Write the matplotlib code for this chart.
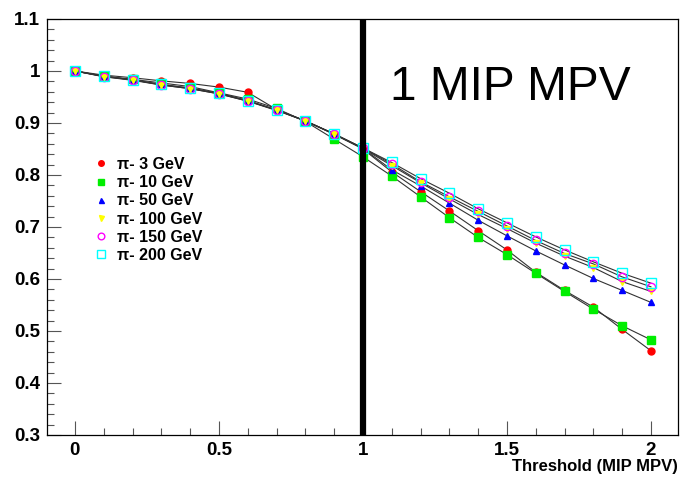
import numpy as np
import matplotlib
matplotlib.use("Agg")
from matplotlib import pyplot as plt
from matplotlib.ticker import MultipleLocator

plt.rcParams['font.family'] = ['Liberation Sans', 'DejaVu Sans']

# threshold values (MIP MPV)
threshold = [0.0, 0.1, 0.2, 0.3, 0.4, 0.5, 0.6, 0.7, 0.8, 0.9, 1.0,
             1.1, 1.2, 1.3, 1.4, 1.5, 1.6, 1.7, 1.8, 1.9, 2.0]

eff_3 = [1.0, 0.992, 0.987, 0.981, 0.976, 0.969, 0.959, 0.926, 0.904, 0.878, 0.850,
         0.806, 0.768, 0.731, 0.693, 0.656, 0.613, 0.578, 0.546, 0.503, 0.462]
eff_10 = [1.0, 0.990, 0.984, 0.977, 0.970, 0.958, 0.946, 0.928, 0.903, 0.869, 0.835,
          0.798, 0.758, 0.718, 0.680, 0.647, 0.611, 0.576, 0.542, 0.510, 0.483]
eff_50 = [1.0, 0.990, 0.983, 0.974, 0.967, 0.957, 0.943, 0.925, 0.904, 0.879, 0.851,
          0.810, 0.779, 0.746, 0.713, 0.683, 0.654, 0.627, 0.601, 0.578, 0.555]
eff_100 = [1.0, 0.989, 0.983, 0.973, 0.966, 0.956, 0.942, 0.925, 0.904, 0.879, 0.851,
           0.818, 0.785, 0.754, 0.724, 0.697, 0.669, 0.644, 0.622, 0.595, 0.576]
eff_150 = [1.0, 0.989, 0.982, 0.973, 0.966, 0.956, 0.942, 0.924, 0.904, 0.879, 0.852,
           0.821, 0.787, 0.758, 0.730, 0.702, 0.674, 0.649, 0.629, 0.604, 0.585]
eff_200 = [1.0, 0.990, 0.983, 0.974, 0.967, 0.957, 0.943, 0.925, 0.904, 0.879, 0.852,
           0.824, 0.793, 0.765, 0.735, 0.708, 0.681, 0.656, 0.633, 0.611, 0.592]

labels = ['π- 3 GeV', 'π- 10 GeV', 'π- 50 GeV', 'π- 100 GeV', 'π- 150 GeV', 'π- 200 GeV']

series = [eff_3, eff_10, eff_50, eff_100, eff_150, eff_200]
styles = [  # marker, size, face, edge
    ('o', 5.0, '#ff0000', '#ff0000'),
    ('s', 5.5, '#00ee00', '#00ee00'),
    ('^', 4.5, '#0000ff', '#0000ff'),
    ('v', 4.5, '#ffff00', '#ffff00'),
    ('o', 6.0, 'none', '#ff00ff'),
    ('s', 6.5, 'none', '#00ffff'),
]

fig = plt.figure(figsize=(6.81, 4.78), dpi=100)
ax = fig.add_axes([0.069, 0.090, 0.9266, 0.8703])

for y, lab, (m, ms, fc, ec) in zip(series, labels, styles):
    ax.plot(threshold, y, color='#333333', lw=0.8, zorder=2)
    ax.plot(threshold, y, ls='none', marker=m, ms=ms, mfc=fc, mec=ec,
            mew=1.0, label=lab, zorder=3)

ax.axvline(1.0, color='black', lw=4.5, zorder=4)
ax.text(1.094, 0.944, '1 MIP MPV', fontsize=34.5, color='black', ha='left',
        va='baseline')

ax.set_xlim(-0.097, 2.094)
ax.set_ylim(0.3, 1.1)
ax.xaxis.set_major_locator(MultipleLocator(0.5))
ax.xaxis.set_minor_locator(MultipleLocator(0.1))
ax.yaxis.set_major_locator(MultipleLocator(0.1))
ax.yaxis.set_minor_locator(MultipleLocator(0.02))
ax.set_xticks([0, 0.5, 1, 1.5, 2])
ax.set_xticklabels(['0', '0.5', '1', '1.5', '2'])
ax.set_yticks([0.3, 0.4, 0.5, 0.6, 0.7, 0.8, 0.9, 1.0, 1.1])
ax.set_yticklabels(['0.3', '0.4', '0.5', '0.6', '0.7', '0.8', '0.9', '1', '1.1'])

ax.tick_params(which='both', direction='in', top=False, right=False, color='#555555')
ax.tick_params(which='major', length=10, width=0.8, labelsize=13.5, pad=5)
ax.tick_params(which='minor', length=5, width=0.8)
for lbl in ax.get_xticklabels() + ax.get_yticklabels():
    lbl.set_fontweight('bold')
for sp in ax.spines.values():
    sp.set_linewidth(0.9)

ax.set_xlabel('Threshold (MIP MPV)', fontsize=12, fontweight='bold')
ax.xaxis.set_label_coords(1.0, -0.075)
ax.xaxis.label.set_horizontalalignment('right')
ax.xaxis.label.set_verticalalignment('center')

leg = ax.legend(loc='upper left', bbox_to_anchor=(0.076, 0.668), frameon=False,
                prop={'weight': 'bold', 'size': 11.5}, handletextpad=0.6,
                labelspacing=0.2, handlelength=0.8, borderaxespad=0,
                borderpad=0, markerscale=0.8)

fig.savefig('out.png', dpi=100)
